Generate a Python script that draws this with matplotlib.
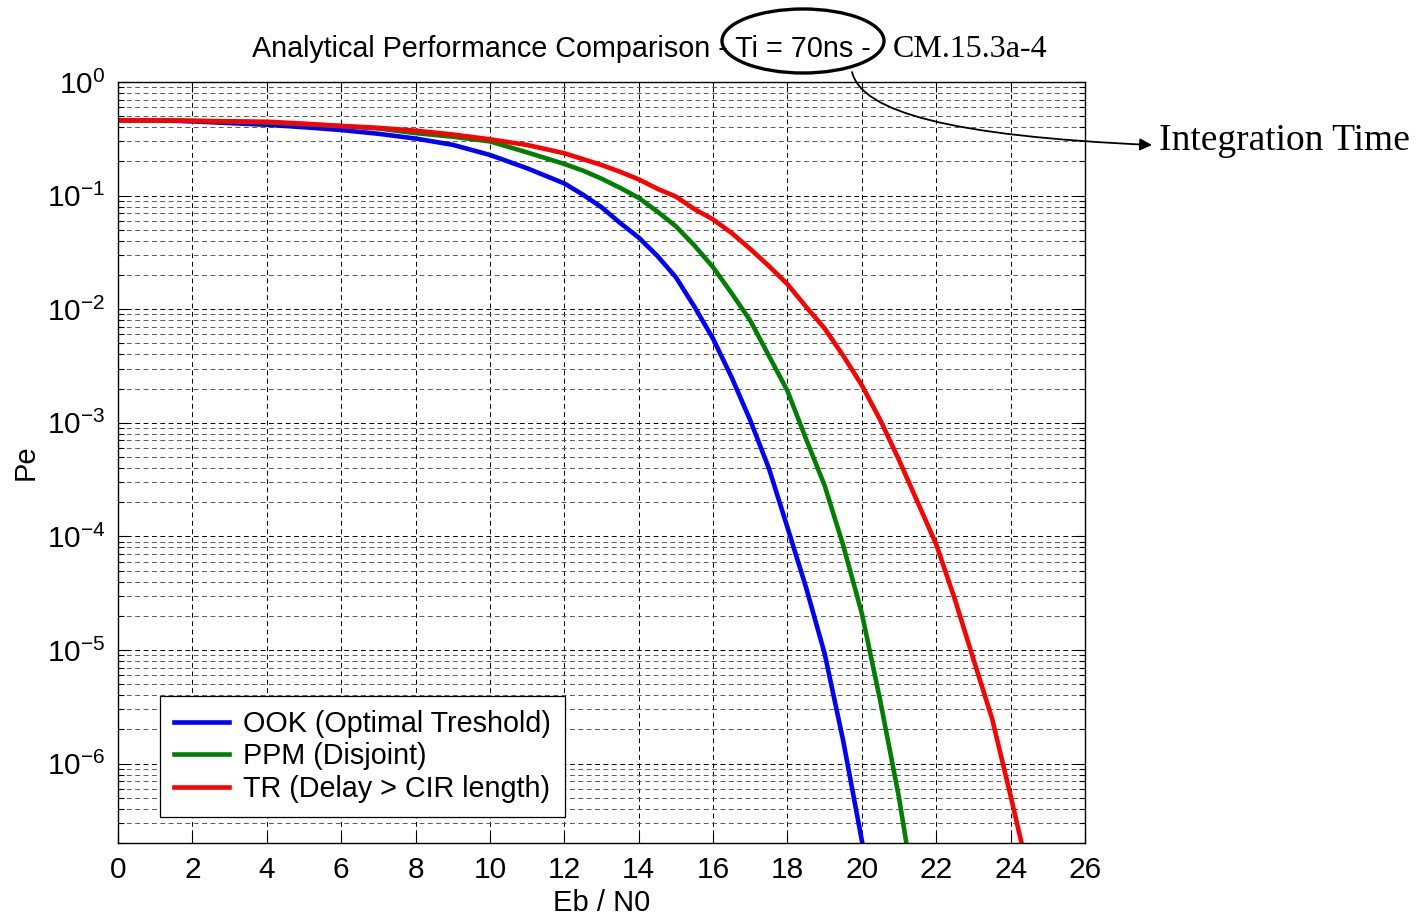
import matplotlib
matplotlib.use("Agg")
import matplotlib.pyplot as plt
from matplotlib.patches import Ellipse, FancyArrowPatch
from matplotlib.path import Path
from matplotlib.ticker import LogLocator, NullFormatter, MultipleLocator

# Eb/N0 [dB] y Pe
ebno_ook = [0, 1, 2, 3, 4, 5, 6, 7, 8, 9, 10, 11, 12, 12.5, 13, 13.5, 14, 14.5,
            15, 15.5, 16, 16.5, 17, 17.5, 18, 18.5, 19, 19.5, 20, 20.05]
pe_ook = [0.46, 0.46, 0.45, 0.435, 0.42, 0.40, 0.378, 0.35, 0.318, 0.28, 0.228,
          0.174, 0.128, 0.102, 0.079, 0.0575, 0.0427, 0.0295, 0.0191, 0.0105,
          0.0055, 0.00251, 0.00105, 3.98e-4, 1.2e-4, 3.55e-5, 9.3e-6, 1.58e-6,
          2.1e-7, 1.8e-7]

ebno_ppm = [0, 1, 2, 3, 4, 5, 6, 7, 8, 9, 10, 11, 12, 12.5, 13, 13.5, 14, 14.5,
            15, 15.5, 16, 16.5, 17, 17.5, 18, 18.5, 19, 19.5, 20, 20.5, 21, 21.22]
pe_ppm = [0.46, 0.46, 0.455, 0.45, 0.44, 0.425, 0.41, 0.39, 0.355, 0.33, 0.30,
          0.24, 0.19, 0.166, 0.141, 0.117, 0.0955, 0.0724, 0.0537, 0.0363,
          0.0234, 0.0138, 0.00794, 0.00389, 0.00191, 7.2e-4, 2.8e-4, 8.3e-5,
          2.1e-5, 3.5e-6, 5.0e-7, 1.8e-7]

ebno_tr = [0, 1, 2, 3, 4, 5, 6, 7, 8, 9, 10, 11, 12, 13, 13.5, 14, 14.5, 15,
           15.5, 16, 16.5, 17, 17.5, 18, 18.5, 19, 19.5, 20, 20.5, 21, 21.5, 22,
           22.5, 23, 23.5, 24, 24.35]
pe_tr = [0.46, 0.46, 0.455, 0.45, 0.447, 0.43, 0.41, 0.395, 0.373, 0.345, 0.313,
         0.279, 0.236, 0.186, 0.162, 0.139, 0.115, 0.098, 0.076, 0.0617, 0.0468,
         0.0339, 0.024, 0.0166, 0.0105, 0.00676, 0.00389, 0.00214, 0.00105,
         4.7e-4, 2.0e-4, 8.5e-5, 2.8e-5, 8.3e-6, 2.5e-6, 5.2e-7, 1.66e-7]

labels = ["OOK (Optimal Treshold)", "PPM (Disjoint)", "TR (Delay > CIR length)"]
colores = ["#0000ff", "#008000", "#ff0000"]
yticks = [1e0, 1e-1, 1e-2, 1e-3, 1e-4, 1e-5, 1e-6]

plt.rcParams['font.family'] = ['Liberation Sans', 'DejaVu Sans']
plt.rcParams['mathtext.fontset'] = 'custom'
plt.rcParams['mathtext.rm'] = 'Liberation Sans'
plt.rcParams['mathtext.it'] = 'Liberation Sans:italic'
plt.rcParams['axes.unicode_minus'] = False

W, H = 1426, 919
fig = plt.figure(figsize=(W / 100, H / 100), dpi=100)
ax = fig.add_axes([118 / W, 1 - 843 / H, (1085 - 118) / W, (843 - 82) / H])

for x, y, lab, c in zip([ebno_ook, ebno_ppm, ebno_tr], [pe_ook, pe_ppm, pe_tr],
                        labels, colores):
    ax.semilogy(x, y, color=c, lw=3.3, label=lab, solid_joinstyle='round')

ax.set_xlim(0, 26)
ax.set_ylim(2e-7, 1)
ax.xaxis.set_major_locator(MultipleLocator(2))
ax.set_yticks(yticks)
ax.yaxis.set_minor_locator(LogLocator(base=10, subs=range(2, 10), numticks=20))
ax.yaxis.set_minor_formatter(NullFormatter())
ax.set_ylim(2e-7, 1)

# estilo tipo MATLAB
dash = (0, (5, 3.6))
ax.grid(True, which='major', color='k', linestyle=dash, linewidth=0.7)
ax.grid(True, which='minor', axis='y', color='0.35', linestyle=dash, linewidth=0.7)
ax.set_axisbelow(True)
ax.tick_params(which='both', direction='in', top=True, right=True,
               labelsize=21.5, width=0.8, color='k')
ax.tick_params(which='major', length=7, pad=9)
ax.tick_params(which='minor', length=4)
for s in ax.spines.values():
    s.set_linewidth(1.0)

ax.set_xlabel("Eb / N0", fontsize=21, labelpad=4)
ax.set_ylabel("Pe", fontsize=21, labelpad=5)

leg = ax.legend(loc='lower left', bbox_to_anchor=(0.043, 0.034), fontsize=20.7,
                frameon=True, fancybox=False, edgecolor='k', framealpha=1,
                handlelength=1.9, handletextpad=0.5, borderpad=0.5,
                labelspacing=0.15, borderaxespad=0)
leg.get_frame().set_linewidth(0.9)

# titulo con la parte agregada en serif
fig.text(252 / W, 1 - 57 / H, "Analytical Performance Comparison - Ti = 70ns -",
         fontsize=20.7, ha='left', va='baseline')
fig.text(893 / W, 1 - 57 / H, "CM.15.3a-4", fontsize=23,
         family='Liberation Serif', ha='left', va='baseline')

elipse = Ellipse((803 / W, 1 - 41 / H), 162 / W, 64 / H, transform=fig.transFigure,
                 fill=False, edgecolor='k', linewidth=2.4)
fig.patches.append(elipse)

verts = [(852 / W, 1 - 72 / H), (862 / W, 1 - 112 / H),
         (950 / W, 1 - 136 / H), (1152 / W, 1 - 145 / H)]
camino = Path(verts, [Path.MOVETO, Path.CURVE4, Path.CURVE4, Path.CURVE4])
flecha = FancyArrowPatch(path=camino, arrowstyle='-|>', mutation_scale=18,
                         color='k', linewidth=1.3, transform=fig.transFigure)
fig.patches.append(flecha)
fig.text(1159 / W, 1 - 150 / H, "Integration Time", fontsize=27,
         family='Liberation Serif', ha='left', va='baseline')

fig.savefig("out.png", dpi=100)
plt.close(fig)
